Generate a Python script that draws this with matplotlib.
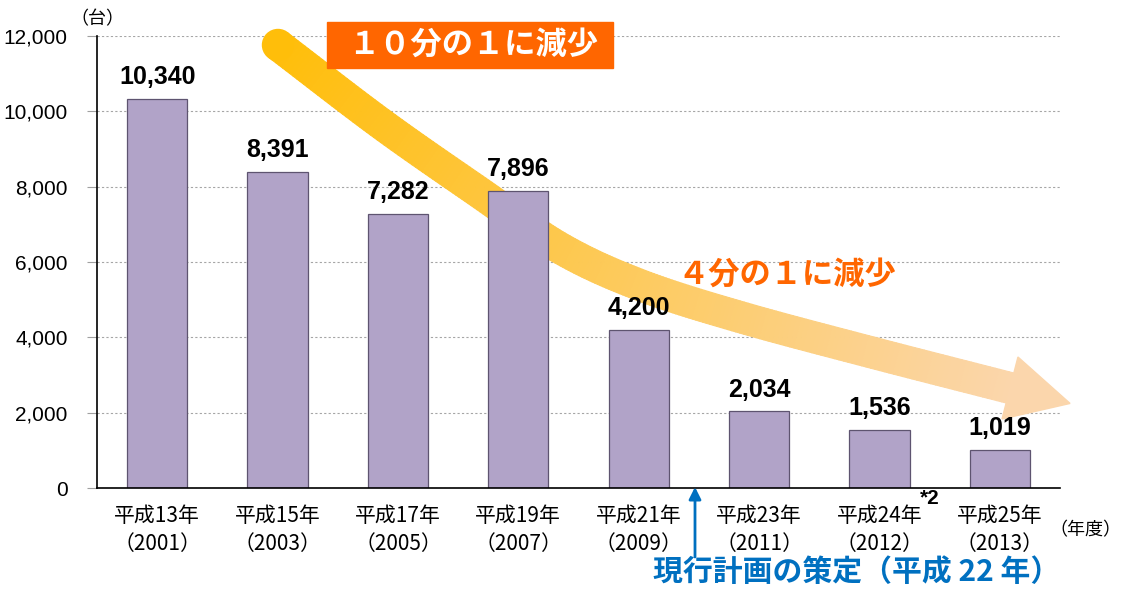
import numpy as np
import matplotlib
matplotlib.use('Agg')
import matplotlib.pyplot as plt
from matplotlib.patches import Polygon, Circle, Rectangle
from matplotlib.collections import PolyCollection
from matplotlib.transforms import Affine2D
from matplotlib.ticker import FuncFormatter

plt.rcParams['font.family'] = ['Noto Sans CJK JP', 'DejaVu Sans']

# data
heisei = ['平成13年', '平成15年', '平成17年', '平成19年',
          '平成21年', '平成23年', '平成24年', '平成25年']
years = ['2001', '2003', '2005', '2007', '2009', '2011', '2012', '2013']
counts = [10340, 8391, 7282, 7896, 4200, 2034, 1536, 1019]
yticks = [0, 2000, 4000, 6000, 8000, 10000, 12000]

W, H = 1127, 590
fig = plt.figure(figsize=(W / 100, H / 100), dpi=100)
ax = fig.add_axes([97 / W, 1 - 488 / H, 963 / W, 452 / H])
# pixel coords, origin top-left
pix = Affine2D().scale(1 / W, -1 / H).translate(0, 1) + fig.transFigure

x = np.arange(len(counts))
ax.bar(x, counts, width=0.5, color='#b1a3c8', edgecolor='#5e5470',
       linewidth=0.9, zorder=2)
for xi, v in zip(x, counts):
    ax.annotate(f'{v:,}', (xi, v), xytext=(0, 7), textcoords='offset points',
                ha='center', va='bottom', fontsize=18, fontweight='bold',
                family='Liberation Sans', zorder=4)

ax.set_xlim(-0.5, len(counts) - 0.5)
ax.set_ylim(0, 12000)
ax.set_yticks(yticks)
ax.yaxis.set_major_formatter(FuncFormatter(lambda v, p: f'{int(v):,}'))
ax.set_xticks(x, [f'{h}\n（{y}）' for h, y in zip(heisei, years)])
ax.tick_params(axis='x', length=0, labelsize=15, pad=12)
ax.tick_params(axis='y', direction='out', length=7, width=0.8,
               color='#a0a0a0', labelsize=15, pad=14)
for lab in ax.get_yticklabels():
    lab.set_family('Liberation Sans')
for lab in ax.get_xticklabels():
    lab.set_linespacing(1.4)
ax.yaxis.grid(True, ls=(0, (2, 2)), color='#a6a6a6', lw=0.8)
ax.set_axisbelow(True)
for s in ['top', 'right']:
    ax.spines[s].set_visible(False)
for s in ['left', 'bottom']:
    ax.spines[s].set_linewidth(1.2)

# big curved gradient arrow
ctrl = np.array([(278, 45), (383, 125), (483, 195), (560, 248), (640, 285),
                 (740, 317), (870, 352), (1010, 388)], float)
P = np.vstack([2 * ctrl[0] - ctrl[1], ctrl, 2 * ctrl[-1] - ctrl[-2]])
curve = []
for i in range(1, len(P) - 2):
    p0, p1, p2, p3 = P[i - 1], P[i], P[i + 1], P[i + 2]
    for t in np.linspace(0, 1, 30, endpoint=False):
        curve.append(0.5 * (2 * p1 + (-p0 + p2) * t
                            + (2 * p0 - 5 * p1 + 4 * p2 - p3) * t ** 2
                            + (-p0 + 3 * p1 - 3 * p2 + p3) * t ** 3))
curve.append(ctrl[-1])
curve = np.array(curve)
d = np.gradient(curve, axis=0)
d /= np.linalg.norm(d, axis=1)[:, None]
n = np.column_stack([-d[:, 1], d[:, 0]])
half = 15.5
L = curve + half * n
R = curve - half * n
seg = np.linalg.norm(np.diff(curve, axis=0), axis=1)
frac = np.concatenate([[0], np.cumsum(seg)]) / seg.sum()
c0 = np.array([255, 190, 10]) / 255
c1 = np.array([251, 214, 172]) / 255
cols = [c0 + (c1 - c0) * f for f in frac]
verts = [[L[i], L[i + 1], R[i + 1], R[i]] for i in range(len(curve) - 1)]
band = PolyCollection(verts, facecolors=cols[:-1], edgecolors=cols[:-1],
                      linewidths=0.8, transform=pix, zorder=1, clip_on=False)
ax.add_collection(band, autolim=False)
ax.add_patch(Circle(curve[0], half, color=c0, transform=pix, zorder=1,
                    clip_on=False))
end, de = curve[-1], d[-1]
ne = np.array([-de[1], de[0]])
head = Polygon([end + 32 * ne, end + 62 * de, end - 32 * ne], color=c1,
               transform=pix, zorder=1, clip_on=False)
ax.add_patch(head)

# labels
fig.add_artist(Rectangle((327, 22), 286, 46, transform=pix,
                         color='#ff6600', zorder=3))
fig.text(473, 45, '１０分の１に減少', transform=pix, ha='center', va='center',
         color='white', fontsize=22.5, fontweight='bold', zorder=4)
fig.text(787, 275, '４分の１に減少', transform=pix, ha='center', va='center',
         color='#ff6600', fontsize=22.5, fontweight='bold')
fig.text(97, 19, '（台）', transform=pix, ha='center', va='center', fontsize=13)
fig.text(1085, 530, '（年度）', transform=pix, ha='center', va='center',
         fontsize=13)
fig.text(930, 498, '*2', transform=pix, ha='center', va='center',
         fontsize=15, fontweight='bold', family='Liberation Sans')
fig.text(857, 572, '現行計画の策定（平成 22 年）', transform=pix, ha='center',
         va='center', color='#0070c0', fontsize=21.5, fontweight='bold')
ax.annotate('', xy=(695, 487), xytext=(695, 557), xycoords=pix,
            textcoords=pix, annotation_clip=False,
            arrowprops=dict(arrowstyle='-|>', color='#0070c0', lw=2,
                            mutation_scale=18, shrinkA=0, shrinkB=0))

fig.savefig('out.png', dpi=100)
